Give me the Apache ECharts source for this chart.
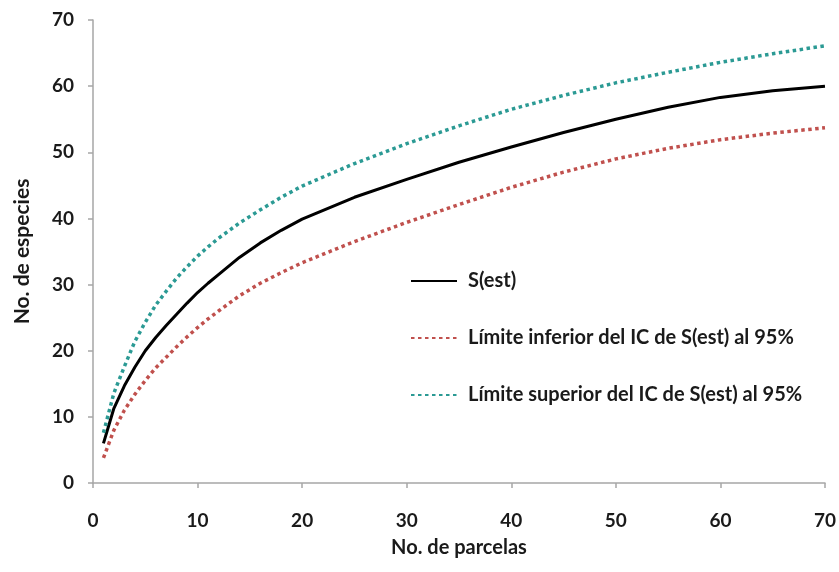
<!DOCTYPE html>
<html>
<head>
<meta charset="utf-8">
<script src="https://cdn.jsdelivr.net/npm/echarts@6/dist/echarts.min.js"></script>
<style>
html,body{margin:0;padding:0;background:#fff;}
#c{width:839px;height:572px;}
</style>
</head>
<body>
<div id="c"></div>
<script>
var xs = [1,2,3,4,5,6,7,8,9,10,11,12,14,16,18,20,25,30,35,40,45,50,55,60,65,70];
var sEst = [6.0,11.3,14.7,17.5,20.0,22.0,23.8,25.5,27.2,28.8,30.2,31.5,34.1,36.3,38.2,39.9,43.2,45.9,48.5,50.8,53.0,55.0,56.8,58.3,59.3,60.0];
var lower = [3.8,8.0,11.0,13.4,15.5,17.4,19.0,20.6,22.1,23.5,24.8,26.0,28.3,30.2,31.8,33.3,36.5,39.4,42.1,44.7,47.0,49.0,50.6,51.9,52.9,53.7];
var upper = [7.6,13.6,17.6,21.4,24.3,26.9,29.0,31.0,32.7,34.3,35.7,37.0,39.3,41.3,43.2,44.9,48.3,51.3,54.0,56.5,58.6,60.5,62.1,63.6,64.9,66.1];
var seriesNames = ['S(est)', 'Límite inferior del IC de S(est) al 95%', 'Límite superior del IC de S(est) al 95%'];
var xTitle = 'No. de parcelas';
var yTitle = 'No. de especies';

function pairs(ys){ return xs.map(function(x,i){ return [x, ys[i]]; }); }

var FONT = 'Lato';
var chart = echarts.init(document.getElementById('c'), null, {renderer:'canvas'});
chart.setOption({
  animation: false,
  backgroundColor: '#ffffff',
  grid: {left: 93, right: 14, top: 20, bottom: 89, containLabel: false},
  legend: {
    orient: 'vertical',
    left: 405, top: 266,
    itemWidth: 46, itemHeight: 14, itemGap: 37,
    itemStyle: {opacity: 0},
    textStyle: {fontFamily: FONT, fontWeight: 'bold', fontSize: 20, color: '#1a1a1a', padding: [0,0,0,6]},
    data: seriesNames
  },
  xAxis: {
    type: 'value', min: 0, max: 70, interval: 10,
    name: xTitle, nameLocation: 'middle', nameGap: 55,
    nameTextStyle: {fontFamily: FONT, fontWeight: 'bold', fontSize: 20, color: '#1a1a1a'},
    axisLine: {show: true, lineStyle: {color: '#a6a6a6', width: 1.5}},
    axisTick: {show: true, length: 5, lineStyle: {color: '#a6a6a6', width: 1.5}},
    axisLabel: {margin: 28, fontFamily: FONT, fontWeight: 'bold', fontSize: 19, color: '#1a1a1a'},
    splitLine: {show: false}
  },
  yAxis: {
    type: 'value', min: 0, max: 70, interval: 10,
    name: yTitle, nameLocation: 'middle', nameGap: 60, nameRotate: 90,
    nameTextStyle: {fontFamily: FONT, fontWeight: 'bold', fontSize: 21, color: '#1a1a1a'},
    axisLine: {show: true, lineStyle: {color: '#a6a6a6', width: 1.5}},
    axisTick: {show: true, length: 5, lineStyle: {color: '#a6a6a6', width: 1.5}},
    axisLabel: {margin: 19, fontFamily: FONT, fontWeight: 'bold', fontSize: 19, color: '#1a1a1a'},
    splitLine: {show: false}
  },
  series: [
    {
      name: seriesNames[0], type: 'line', smooth: false, showSymbol: false, symbol: 'none',
      data: pairs(sEst),
      lineStyle: {color: '#000000', width: 3, join: 'round'},
      itemStyle: {color: '#000000'},
      z: 3
    },
    {
      name: seriesNames[1], type: 'line', smooth: false, showSymbol: false, symbol: 'none',
      data: pairs(lower),
      lineStyle: {color: '#c0504d', width: 3.5, type: [3.5, 3.5]},
      itemStyle: {color: '#c0504d'}
    },
    {
      name: seriesNames[2], type: 'line', smooth: false, showSymbol: false, symbol: 'none',
      data: pairs(upper),
      lineStyle: {color: '#2b9a94', width: 3.5, type: [3.5, 3.5]},
      itemStyle: {color: '#2b9a94'}
    }
  ]
});
</script>
</body>
</html>
